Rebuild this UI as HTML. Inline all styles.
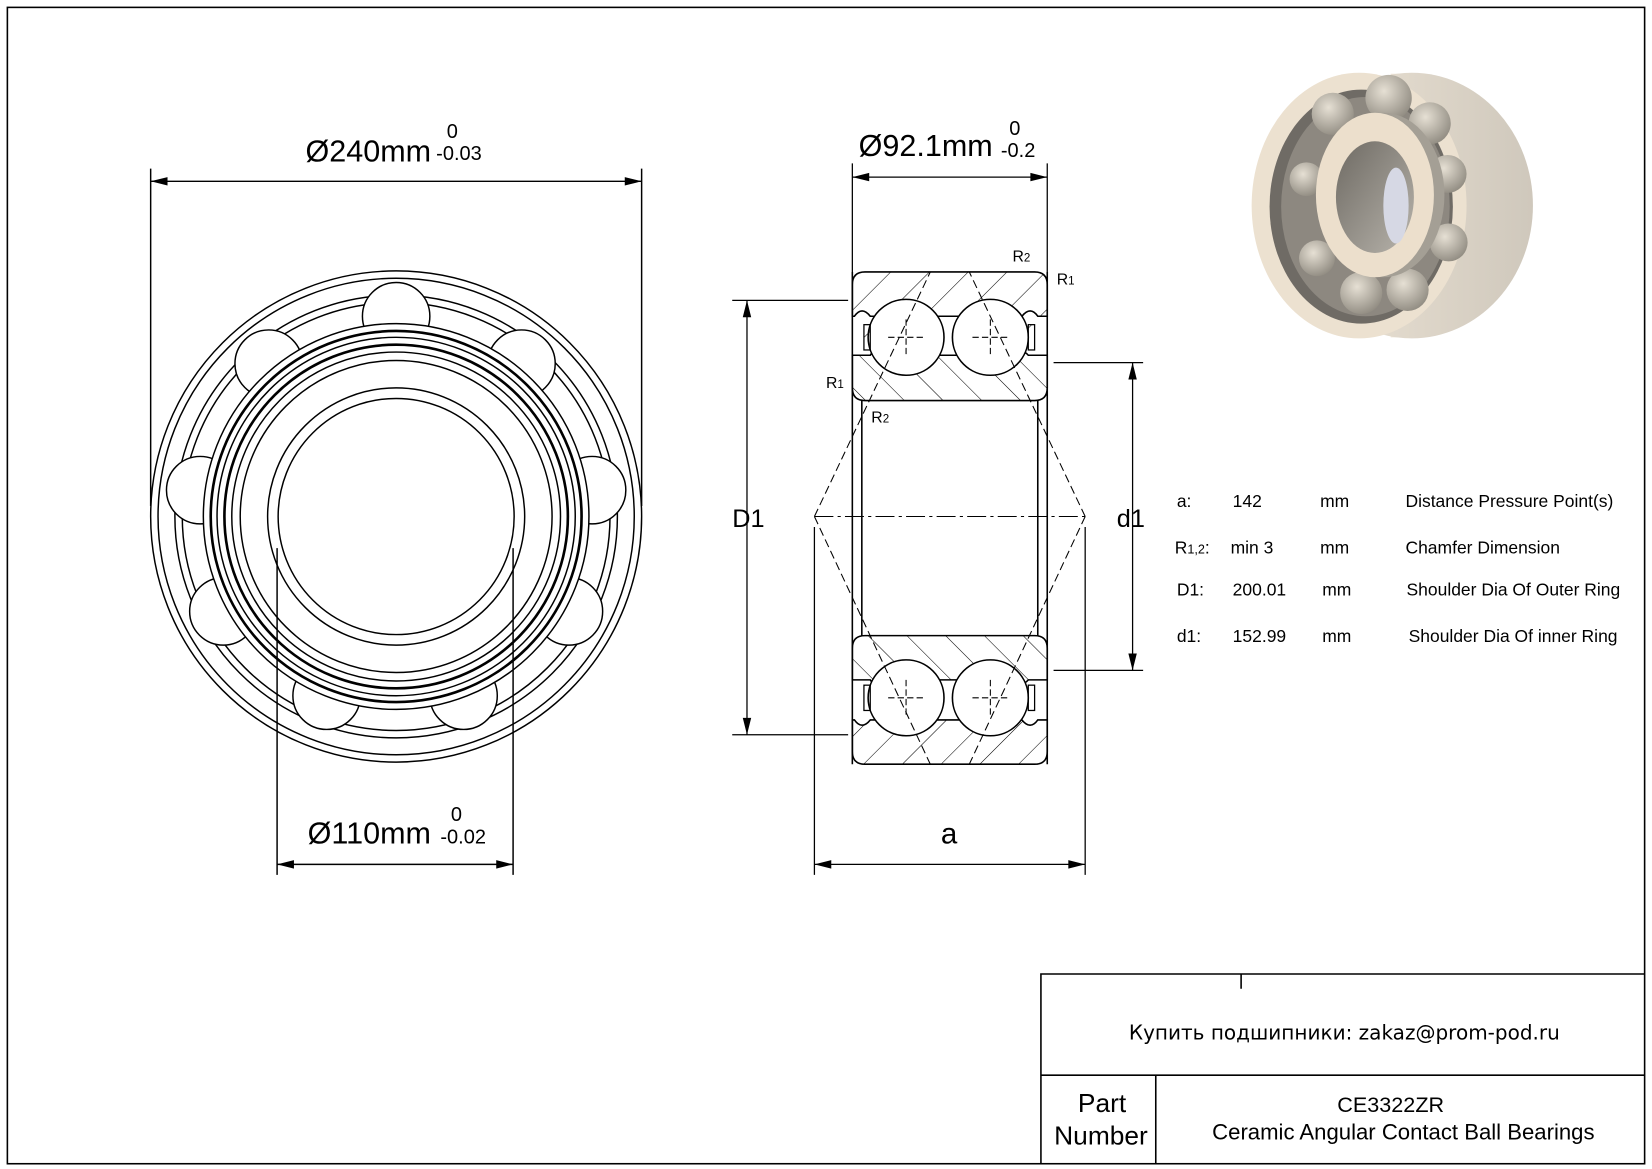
<!DOCTYPE html>
<html><head><meta charset="utf-8"><style>html,body{margin:0;padding:0;background:#fff}svg{display:block}text{font-family:"Liberation Sans",Arial,sans-serif;fill:#000}</style></head><body>
<svg width="1652" height="1169" viewBox="0 0 1568 1109" preserveAspectRatio="none" xmlns="http://www.w3.org/2000/svg">
<defs>
<pattern id="h" width="26" height="26" patternUnits="userSpaceOnUse" patternTransform="rotate(45)"><line x1="0" y1="0" x2="0" y2="26" stroke="#000" stroke-width="1"/></pattern>
<pattern id="h2" width="26" height="26" patternUnits="userSpaceOnUse" patternTransform="rotate(-45)"><line x1="0" y1="0" x2="0" y2="26" stroke="#000" stroke-width="1"/></pattern>
<radialGradient id="bg" cx="0.4" cy="0.35" r="0.7"><stop offset="0" stop-color="#e6e0d4"/><stop offset="1" stop-color="#8f8a80"/></radialGradient>
<linearGradient id="cyl" x1="0" x2="1"><stop offset="0" stop-color="#efe6d8"/><stop offset="1" stop-color="#cfc8bc"/></linearGradient>
<linearGradient id="bore" x1="0" x2="1" y1="0" y2="1"><stop offset="0" stop-color="#6e6a63"/><stop offset="1" stop-color="#b8b4ac"/></linearGradient>
</defs>
<rect x="7" y="7" width="1554" height="1097" fill="none" stroke="#000" stroke-width="1.5"/>
<g stroke="#000" stroke-width="1.5" fill="none">
<path d="M988 1104V924H1561M988 1020H1561M1097 1020V1104M1178 924V938"/>
</g>
<text x="1276" y="986" font-size="19" text-anchor="middle" style="font-family:'DejaVu Sans',sans-serif">Купить подшипники: zakaz@prom-pod.ru</text>
<text x="1046" y="1055" font-size="25" text-anchor="middle">Part</text>
<text x="1045" y="1086" font-size="25" text-anchor="middle">Number</text>
<text x="1320" y="1055" font-size="20.5" text-anchor="middle">CE3322ZR</text>
<text x="1332" y="1081" font-size="21" text-anchor="middle">Ceramic Angular Contact Ball Bearings</text>

<g stroke="#000" stroke-width="1.4" fill="none">
<circle cx="376" cy="490" r="233"/><circle cx="376" cy="490" r="226"/>
<circle cx="376" cy="490" r="210"/><circle cx="376" cy="490" r="203"/>
<g fill="#fff">
<circle cx="376" cy="300" r="32"/><circle cx="255" cy="345" r="32"/><circle cx="495" cy="345" r="32"/>
<circle cx="190" cy="465" r="32"/><circle cx="562" cy="465" r="32"/><circle cx="212" cy="580" r="32"/><circle cx="540" cy="580" r="32"/>
<circle cx="310" cy="660" r="32"/><circle cx="440" cy="660" r="32"/>
<circle cx="376" cy="490" r="183"/></g>
<circle cx="376" cy="490" r="176" stroke-width="2.5"/><circle cx="376" cy="490" r="170"/>
<circle cx="376" cy="490" r="163" stroke-width="2.5"/><circle cx="376" cy="490" r="156"/>
<circle cx="376" cy="490" r="148"/><circle cx="376" cy="490" r="122"/><circle cx="376" cy="490" r="112"/>
<path d="M143 160V480M609 160V480M263 520V830M487 520V830"/>
<path d="M143 172H609M263 820H487"/>
</g>
<g fill="#000"><path d="M143 172l16-4v8zM609 172l-16-4v8zM263 820l16-4v8zM487 820l-16-4v8z"/></g>
<text x="290" y="153" font-size="29">Ø240mm</text><text x="424" y="131" font-size="19">0</text><text x="414" y="152" font-size="19">-0.03</text>
<text x="292" y="800" font-size="29">Ø110mm</text><text x="428" y="779" font-size="19">0</text><text x="418" y="800" font-size="19">-0.02</text>

<g stroke="#000" stroke-width="1.5">
<path d="M821 258H982Q994 258 994 270V300H985Q978 290 970 300H826Q818 290 811 300H809V270Q809 258 821 258Z" fill="url(#h)"/>
<path d="M809 337H826Q830 330 836 337H964Q970 330 976 337H994V368Q994 380 982 380H821Q809 380 809 368Z" fill="url(#h2)"/>
<path d="M809 615Q809 603 821 603H982Q994 603 994 615V645H976Q970 652 964 645H836Q830 652 826 645H809Z" fill="url(#h2)"/>
<path d="M809 683H811Q818 693 826 683H970Q978 693 985 683H994V713Q994 725 982 725H821Q809 725 809 713Z" fill="url(#h)"/>
<g fill="#fff"><circle cx="860" cy="320" r="36"/><circle cx="940" cy="320" r="36"/><circle cx="860" cy="662" r="36"/><circle cx="940" cy="662" r="36"/></g>
<g fill="url(#h)" stroke-width="1.2"><rect x="820" y="308" width="6" height="24"/><rect x="976" y="308" width="6" height="24"/><rect x="820" y="650" width="6" height="24"/><rect x="976" y="650" width="6" height="24"/></g>
<path d="M809 258V725M994 258V725M818 380V603M985 380V603" fill="none"/>
</g>
<g stroke="#000" stroke-width="1" fill="none" stroke-dasharray="8,4">
<path d="M773 490L883 258M1030 490L920 258M773 490L883 725M1030 490L920 725"/>
<path d="M773 490H1030" stroke-dasharray="18,4,3,4"/>
<path d="M843 320H877M860 303V337M923 320H957M940 303V337M843 662H877M860 645V679M923 662H957M940 645V679" stroke-dasharray="6,3"/>
</g>
<g stroke="#000" stroke-width="1.2" fill="none">
<path d="M809 155V258M994 155V258M809 168H994"/>
<path d="M695 285H805M695 697H805M709 285V697"/>
<path d="M1000 344H1085M1000 636H1085M1075 344V636"/>
<path d="M773 500V830M1030 500V830M773 820H1030"/>
</g>
<g fill="#000"><path d="M809 168l16-4v8zM994 168l-16-4v8zM709 285l-4 16h8zM709 697l-4-16h8zM1075 344l-4 16h8zM1075 636l-4-16h8zM773 820l16-4v8zM1030 820l-16-4v8z"/></g>
<text x="815" y="148" font-size="29">Ø92.1mm</text><text x="958" y="128" font-size="19">0</text><text x="950" y="149" font-size="19">-0.2</text>
<text x="695" y="500" font-size="24">D1</text><text x="1060" y="500" font-size="24">d1</text>
<text x="893" y="800" font-size="28">a</text>
<text x="961" y="248" font-size="15">R<tspan font-size="11">2</tspan></text>
<text x="1003" y="270" font-size="15">R<tspan font-size="11">1</tspan></text>
<text x="784" y="368" font-size="15">R<tspan font-size="11">1</tspan></text>
<text x="827" y="401" font-size="15">R<tspan font-size="11">2</tspan></text>

<g font-size="16.6">
<text x="1117" y="481">a:</text><text x="1170" y="481">142</text><text x="1253" y="481">mm</text><text x="1334" y="481">Distance Pressure Point(s)</text>
<text x="1115" y="525">R<tspan font-size="12">1,2</tspan>:</text><text x="1168" y="525">min  3</text><text x="1253" y="525">mm</text><text x="1334" y="525">Chamfer Dimension</text>
<text x="1117" y="565">D1:</text><text x="1170" y="565">200.01</text><text x="1255" y="565">mm</text><text x="1335" y="565">Shoulder Dia Of Outer Ring</text>
<text x="1117" y="609">d1:</text><text x="1170" y="609">152.99</text><text x="1255" y="609">mm</text><text x="1337" y="609">Shoulder Dia Of inner Ring</text>
</g>

<g>
<path d="M1320 70H1340A115 126 0 0 1 1340 320H1320Z" fill="url(#cyl)"/>
<ellipse cx="1340" cy="195" rx="115" ry="126" fill="url(#cyl)"/>
<ellipse cx="1290" cy="195" rx="102" ry="126" fill="#ece1d0"/>
<ellipse cx="1292" cy="196" rx="87" ry="111" fill="#6f6b65"/>
<ellipse cx="1296" cy="196" rx="80" ry="104" fill="#8d8880"/>
<g fill="url(#bg)"><circle cx="1318" cy="93" r="22"/><circle cx="1265" cy="108" r="20"/><circle cx="1357" cy="117" r="20"/><circle cx="1374" cy="165" r="18"/><circle cx="1240" cy="170" r="16"/><circle cx="1375" cy="230" r="18"/><circle cx="1250" cy="245" r="17"/><circle cx="1292" cy="278" r="20"/><circle cx="1336" cy="275" r="20"/></g>
<ellipse cx="1313" cy="185" rx="58" ry="78" fill="#a49f95"/>
<ellipse cx="1305" cy="185" rx="56" ry="78" fill="#ecdfcc"/>
<ellipse cx="1305" cy="187" rx="37" ry="53" fill="url(#bore)"/>
<ellipse cx="1325" cy="195" rx="12" ry="36" fill="#d6d8e4"/>
</g>
</svg>
</body></html>
